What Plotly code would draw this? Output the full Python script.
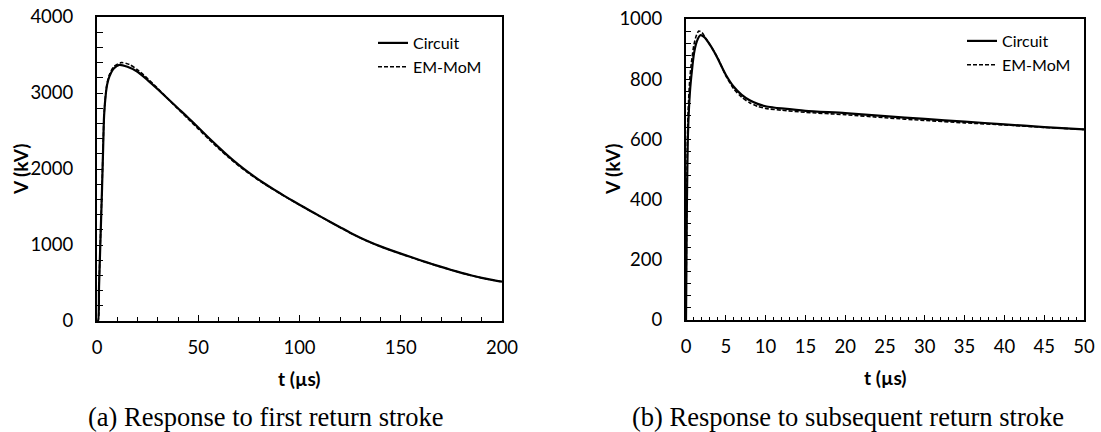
import plotly.graph_objects as go

# ---- (a) first return stroke ----
t_a_circuit = [0, 0.5, 1.0, 1.8, 2.5, 3.1, 3.5, 4.4, 5.0, 6.1, 8.4, 11, 15, 20, 25, 30, 35, 40, 45, 50, 55, 60, 65, 70, 75, 80, 85, 90, 95, 100,
               105, 110, 115, 120, 125, 130, 135, 140, 145, 150, 155, 160, 165, 170, 175, 180, 185, 190, 195, 200]
v_a_circuit = [0, 0, 450, 1150, 1750, 2350, 2700, 3000, 3110, 3215, 3325, 3370, 3345, 3280, 3170, 3050, 2925, 2800, 2675, 2545, 2415, 2288,
               2166, 2054, 1951, 1857, 1770, 1687, 1607, 1530, 1455, 1380, 1307, 1234, 1162, 1096, 1036, 982, 933, 887, 841, 796, 753,
               712, 672, 634, 599, 568, 541, 517]
t_a_mom = [0, 0.5, 1.0, 1.8, 2.5, 3.1, 3.5, 4.4, 5.0, 6.1, 8.4, 12, 16, 20, 25, 30, 35, 40, 45, 50, 55, 60, 65, 70, 75, 80, 85, 90, 95, 100,
           105, 110, 115, 120, 125, 130, 135, 140, 145, 150, 155, 160, 165, 170, 175, 180, 185, 190, 195, 200]
v_a_mom = [0, 0, 480, 1180, 1780, 2380, 2720, 3020, 3130, 3240, 3350, 3400, 3375, 3305, 3190, 3060, 2925, 2790, 2660, 2528, 2398, 2272,
           2152, 2042, 1941, 1849, 1764, 1683, 1604, 1528, 1453, 1378, 1305, 1232, 1160, 1094, 1034, 980, 931, 885, 839, 794, 751,
           710, 670, 632, 597, 566, 539, 515]

# ---- (b) subsequent return stroke ----
t_b_circuit = [0, 0.1, 0.25, 0.5, 0.75, 1.0, 1.35, 1.8, 2.3, 3.0, 3.5, 4.0, 5.0, 6.0, 7.0, 8.0, 9.0, 10, 11, 12, 15, 20, 25, 30, 35, 40, 45, 50]
v_b_circuit = [0, 350, 620, 760, 830, 885, 925, 946, 940, 915, 893, 868, 815, 775, 748, 730, 718, 710, 706, 703, 695, 687, 677, 668, 659, 650, 641, 633]
t_b_mom = [0, 0.1, 0.25, 0.5, 0.75, 1.0, 1.3, 1.6, 2.0, 2.5, 3.0, 4.0, 5.0, 6.0, 7.0, 8.0, 9.0, 10, 12, 15, 20, 25, 30, 35, 40, 45, 50]
v_b_mom = [0, 420, 680, 810, 870, 915, 945, 960, 955, 935, 915, 870, 812, 768, 740, 722, 710, 703, 697, 690, 682, 672, 663, 655, 648, 640, 633]

series_names = ["Circuit", "EM-MoM"]
captions = ["(a) Response to first return stroke", "(b) Response to subsequent return stroke"]
x_title = "t (µs)"
y_title = "V (kV)"

W, H = 1101, 432
TICKFONT = dict(family="Lato", size=18.5, color="black")
TITLEFONT = dict(family="Lato", size=19, color="black")
LEGFONT = dict(family="Lato", size=16, color="black")

fig = go.Figure()

solid = dict(color="black", width=2.2, shape="spline", smoothing=0.7)
dashed = dict(color="black", width=1.6, dash="4px,2px", shape="spline", smoothing=0.7)

fig.add_trace(go.Scatter(x=t_a_circuit, y=v_a_circuit, mode="lines", line=solid,
                         name=series_names[0], xaxis="x", yaxis="y", legend="legend"))
fig.add_trace(go.Scatter(x=t_a_mom, y=v_a_mom, mode="lines", line=dashed,
                         name=series_names[1], xaxis="x", yaxis="y", legend="legend"))
fig.add_trace(go.Scatter(x=t_b_circuit, y=v_b_circuit, mode="lines", line=solid,
                         name=series_names[0], xaxis="x2", yaxis="y2", legend="legend2"))
fig.add_trace(go.Scatter(x=t_b_mom, y=v_b_mom, mode="lines", line=dashed,
                         name=series_names[1], xaxis="x2", yaxis="y2", legend="legend2"))


def ax(domain, rng, dtick, minor_dtick, anchor, ticklen=6, minorlen=4, standoff=14):
    return dict(domain=domain, range=rng, dtick=dtick, tick0=0, anchor=anchor, automargin=False,
                showline=True, linecolor="black", linewidth=2, mirror=True,
                ticks="inside", ticklen=ticklen, tickwidth=1.2, tickcolor="black",
                minor=dict(dtick=minor_dtick, tick0=0, ticks="inside", ticklen=minorlen,
                           tickwidth=1, tickcolor="black", showgrid=False),
                showgrid=False, zeroline=False, tickfont=TICKFONT,
                ticklabelstandoff=standoff, fixedrange=True)


L = dict(x0=97, x1=502, y0=17, y1=321)
R = dict(x0=686, x1=1084, y0=19, y1=320)


def xd(p):
    return [p["x0"] / W, p["x1"] / W]


def yd(p):
    return [1 - p["y1"] / H, 1 - p["y0"] / H]


fig.update_layout(
    width=W, height=H, margin=dict(l=0, r=0, t=0, b=0, autoexpand=False),
    paper_bgcolor="white", plot_bgcolor="white",
    xaxis=ax(xd(L), [0, 200], 50, 10, "y", ticklen=6, minorlen=4, standoff=9),
    yaxis=ax(yd(L), [0, 4000], 1000, 200, "x", ticklen=6, minorlen=6, standoff=18),
    xaxis2=ax(xd(R), [0, 50], 5, 1, "y2", ticklen=5, minorlen=3, standoff=9),
    yaxis2=ax(yd(R), [0, 1000], 200, 40, "x2", ticklen=5, minorlen=5, standoff=18),
    legend=dict(x=373 / W, y=1 - 26 / H, xanchor="left", yanchor="top",
                font=LEGFONT, bgcolor="rgba(0,0,0,0)", itemwidth=30, tracegroupgap=0),
    legend2=dict(x=962 / W, y=1 - 24 / H, xanchor="left", yanchor="top",
                 font=LEGFONT, bgcolor="rgba(0,0,0,0)", itemwidth=30, tracegroupgap=0),
)

ann = []
# axis titles
for cx, cy in [(299.5, 378), (885, 377)]:
    ann.append(dict(text="<b>" + x_title + "</b>", x=cx / W, y=1 - cy / H, xref="paper", yref="paper",
                    showarrow=False, font=TITLEFONT, xanchor="center", yanchor="middle"))
for cx, cy in [(20, 170), (612, 170)]:
    ann.append(dict(text="<b>" + y_title + "</b>", x=cx / W, y=1 - cy / H, xref="paper", yref="paper",
                    showarrow=False, font=TITLEFONT, textangle=-90, xanchor="center", yanchor="middle"))
# captions
for cap, cx in zip(captions, [265, 848]):
    ann.append(dict(text=cap, x=cx / W, y=1 - 417 / H, xref="paper", yref="paper", showarrow=False,
                    font=dict(family="Liberation Serif", size=26.5, color="black"),
                    xanchor="center", yanchor="middle"))
fig.update_layout(annotations=ann)

fig.write_html("out.html", config={"displayModeBar": False},
               post_script="document.body.style.margin='0';document.body.style.overflow='hidden';")
